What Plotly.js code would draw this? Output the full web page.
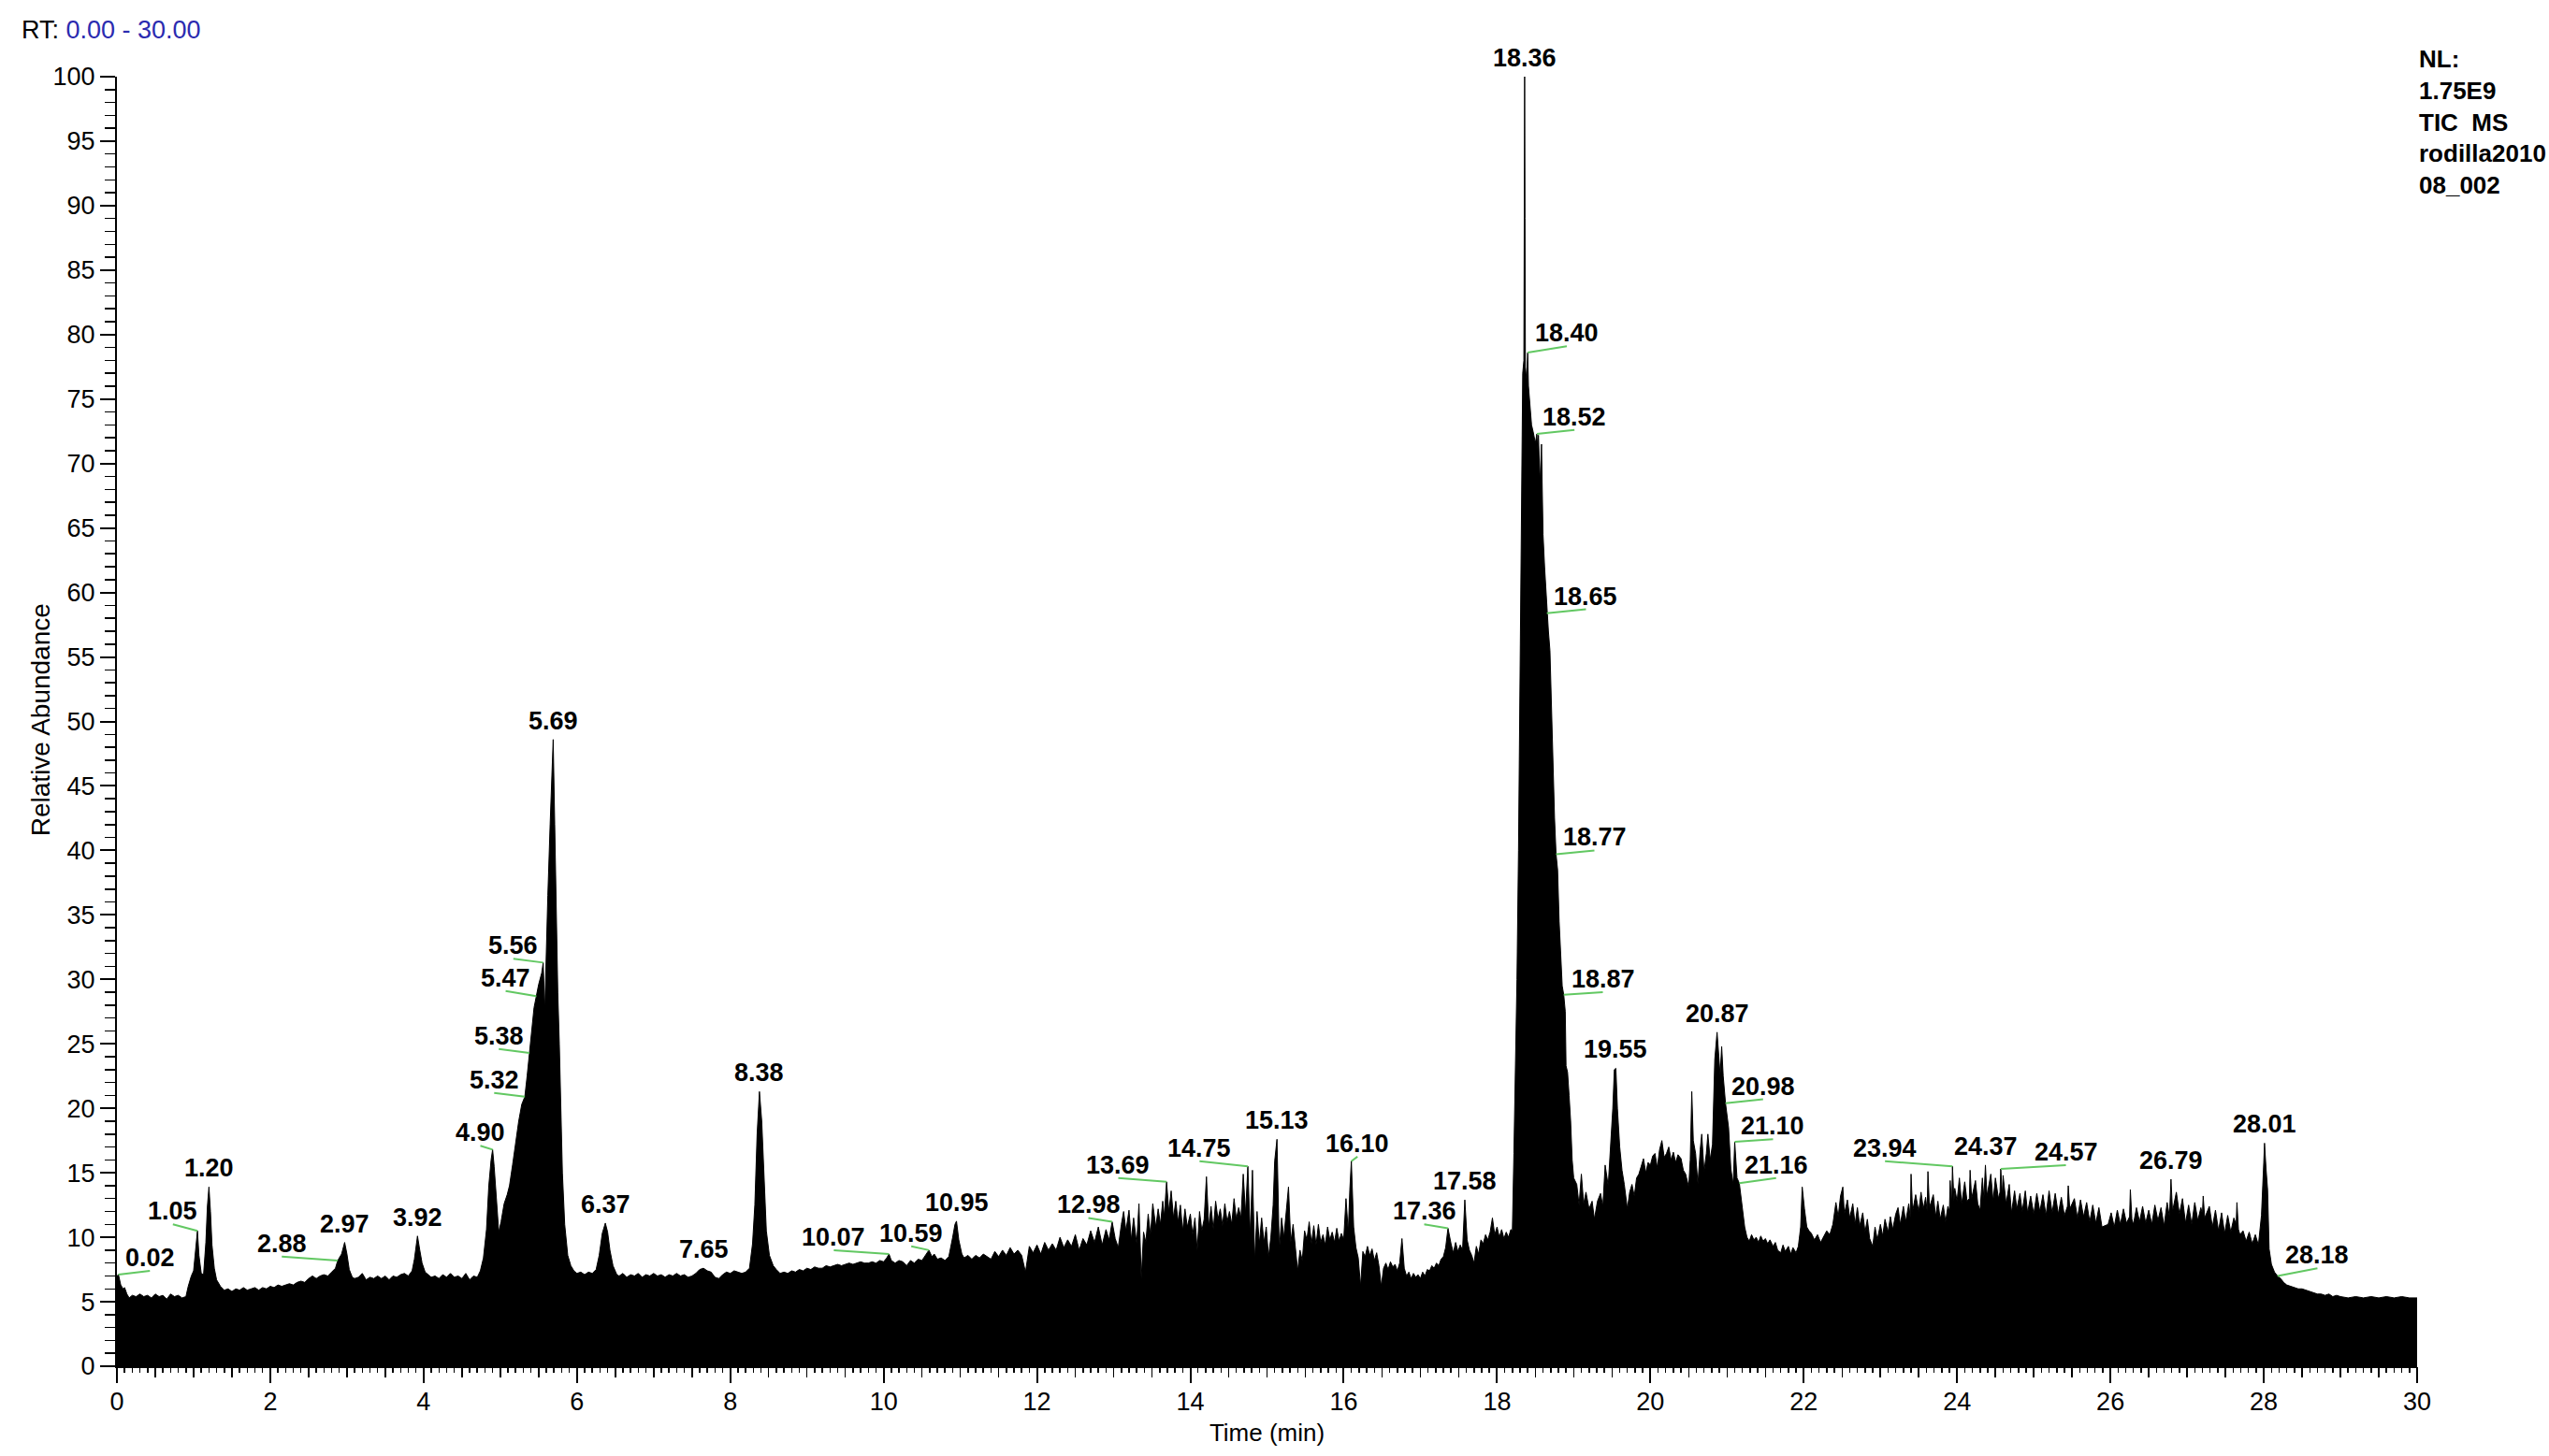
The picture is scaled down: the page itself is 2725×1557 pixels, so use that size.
<!DOCTYPE html>
<html>
<head>
<meta charset="utf-8">
<script src="https://cdn.plot.ly/plotly-3.0.1.min.js"></script>
<style>
  html, body { margin: 0; padding: 0; background: #ffffff; }
  #chart { width: 2725px; height: 1557px; }
</style>
</head>
<body>
<div id="chart"></div>
<script>
// ---------------- DATA (retention time [min], relative abundance [%]) ----------------
const scans_0_to_4_7 = [
  [0.00,7.0],[0.02,7.1],[0.05,6.3],[0.08,6.0],[0.10,6.1],[0.13,5.6],[0.16,5.3],[0.20,5.5],[0.25,5.4],[0.30,5.6],
  [0.35,5.4],[0.40,5.5],[0.45,5.3],[0.50,5.6],[0.55,5.4],[0.60,5.5],[0.65,5.2],[0.70,5.6],[0.75,5.4],[0.80,5.5],
  [0.85,5.3],[0.90,5.4],[0.93,6.2],[0.97,7.0],[1.00,7.4],[1.03,9.3],[1.05,10.5],[1.07,8.6],[1.10,7.2],[1.13,7.1],
  [1.16,9.6],[1.18,12.4],[1.20,13.9],[1.22,12.0],[1.24,9.4],[1.27,7.6],[1.30,6.7],[1.35,6.2],[1.40,5.9],[1.45,6.0],
  [1.50,5.8],[1.55,6.0],[1.60,5.9],[1.65,6.1],[1.70,5.9],[1.75,6.0],[1.80,6.1],[1.85,5.9],[1.90,6.1],[1.95,6.0],
  [2.00,6.2],[2.05,6.1],[2.10,6.3],[2.15,6.2],[2.20,6.3],[2.25,6.4],[2.30,6.3],[2.35,6.5],[2.40,6.6],[2.45,6.5],
  [2.50,6.8],[2.55,7.0],[2.60,6.8],[2.65,7.0],[2.70,7.1],[2.75,7.0],[2.80,7.3],[2.85,7.6],[2.88,8.2],[2.93,8.7],
  [2.97,9.6],[3.00,8.7],[3.03,7.5],[3.07,6.9],[3.10,6.8],[3.15,6.9],[3.20,7.2],[3.25,6.7],[3.30,6.9],[3.35,6.8],
  [3.40,7.0],[3.45,6.8],[3.50,7.0],[3.55,6.7],[3.60,7.0],[3.65,6.9],[3.70,7.1],[3.75,7.2],[3.80,7.0],[3.85,7.4],
  [3.88,8.3],[3.92,10.1],[3.95,9.0],[3.98,8.0],[4.02,7.3],[4.06,7.1],[4.10,6.9],[4.15,7.0],[4.20,6.8],[4.25,7.1],
  [4.30,6.9],[4.35,7.2],[4.40,6.9],[4.45,7.0],[4.50,6.8],[4.55,7.2],[4.60,6.7],[4.65,7.0],[4.70,6.9]
];
const scans_4_7_to_8_7 = [
  [4.74,7.4],[4.78,8.4],[4.82,10.6],[4.85,14.0],[4.88,16.0],[4.90,16.8],[4.92,15.5],[4.95,12.8],[4.98,10.4],[5.01,11.2],
  [5.05,12.6],[5.09,13.3],[5.12,14.0],[5.16,15.6],[5.20,17.5],[5.24,19.0],[5.28,20.3],[5.32,20.9],[5.35,22.5],[5.38,24.3],
  [5.41,26.0],[5.44,27.8],[5.47,28.7],[5.50,29.6],[5.54,30.5],[5.56,31.3],[5.58,27.5],[5.60,33.0],[5.62,36.5],[5.65,42.0],
  [5.67,46.0],[5.69,48.6],[5.71,42.0],[5.73,34.5],[5.75,29.0],[5.77,25.0],[5.79,19.5],[5.81,15.0],[5.84,11.0],[5.88,8.6],
  [5.92,7.8],[5.96,7.4],[6.00,7.2],[6.05,7.3],[6.10,7.1],[6.15,7.3],[6.20,7.2],[6.25,7.5],[6.29,8.6],[6.33,10.3],
  [6.37,11.1],[6.40,10.4],[6.43,9.0],[6.47,7.8],[6.52,7.1],[6.55,7.0],[6.60,7.2],[6.65,6.9],[6.70,7.1],[6.75,7.0],
  [6.80,7.2],[6.85,6.9],[6.90,7.1],[6.95,7.0],[7.00,7.2],[7.05,7.0],[7.10,7.1],[7.15,6.9],[7.20,7.1],[7.25,7.0],
  [7.30,7.2],[7.35,7.0],[7.40,7.1],[7.45,6.9],[7.50,7.0],[7.55,7.2],[7.60,7.5],[7.65,7.6],[7.70,7.4],[7.75,7.3],
  [7.80,6.9],[7.85,6.8],[7.90,7.1],[7.95,7.3],[8.00,7.2],[8.05,7.4],[8.10,7.3],[8.15,7.2],[8.20,7.3],[8.25,7.6],
  [8.29,9.5],[8.32,12.5],[8.35,18.0],[8.38,21.3],[8.41,19.0],[8.44,14.5],[8.47,10.5],[8.51,8.6],[8.56,7.8],[8.60,7.5],
  [8.65,7.2]
];
const scans_8_7_to_12 = [
  [8.70,7.3],[8.75,7.2],[8.80,7.4],[8.85,7.3],[8.90,7.5],[8.95,7.4],[9.00,7.6],[9.05,7.5],[9.10,7.7],[9.15,7.6],
  [9.20,7.6],[9.25,7.8],[9.30,7.7],[9.35,7.8],[9.40,7.9],[9.45,7.8],[9.50,7.9],[9.55,8.0],[9.60,7.9],[9.65,8.0],
  [9.70,8.1],[9.75,8.0],[9.80,8.0],[9.85,8.1],[9.90,8.0],[9.95,8.2],[10.00,8.1],[10.04,8.4],[10.07,8.7],[10.10,8.2],
  [10.15,8.0],[10.20,8.2],[10.25,8.1],[10.30,7.8],[10.35,8.2],[10.40,8.0],[10.45,8.3],[10.50,8.2],[10.55,8.6],[10.59,9.0],
  [10.63,8.5],[10.66,8.7],[10.70,8.3],[10.75,8.4],[10.80,8.2],[10.85,8.5],[10.90,10.0],[10.93,11.0],[10.95,11.25],[10.98,9.8],
  [11.02,8.7],[11.05,8.4],[11.10,8.6],[11.15,8.3],[11.20,8.6],[11.25,8.4],[11.30,8.7],[11.35,8.5],[11.40,8.3],[11.45,8.9],
  [11.50,8.5],[11.55,9.0],[11.60,8.6],[11.65,9.2],[11.70,8.7],[11.75,9.0],[11.80,8.6],[11.85,7.3],[11.90,9.3],[11.95,8.8]
];
const scans_12_to_15 = [
  [12.00,9.4],[12.05,8.7],[12.10,9.6],[12.15,9.0],[12.20,9.5],[12.25,9.0],[12.30,10.0],[12.35,9.2],[12.40,9.8],[12.45,9.3],
  [12.50,10.2],[12.55,9.0],[12.60,9.9],[12.65,9.4],[12.70,10.5],[12.75,9.6],[12.80,10.8],[12.85,9.4],[12.90,10.6],[12.94,9.8],
  [12.98,11.2],[13.02,9.9],[13.06,9.2],[13.10,11.0],[13.13,12.0],[13.16,10.5],[13.20,12.1],[13.23,9.8],[13.26,11.5],[13.30,9.5],
  [13.33,12.6],[13.36,6.8],[13.39,10.4],[13.42,9.6],[13.45,11.8],[13.48,10.2],[13.51,12.6],[13.55,10.8],[13.58,12.2],[13.61,11.0],
  [13.64,12.8],[13.66,11.6],[13.69,14.3],[13.72,12.0],[13.75,13.6],[13.78,11.5],[13.81,12.8],[13.84,11.2],[13.87,12.5],[13.90,10.5],
  [13.93,12.2],[13.96,10.8],[14.00,11.8],[14.03,10.2],[14.06,11.5],[14.09,9.0],[14.12,12.0],[14.15,10.5],[14.18,11.4],[14.21,14.7],
  [14.24,10.8],[14.27,12.4],[14.30,10.6],[14.33,12.8],[14.36,11.4],[14.39,12.2],[14.42,10.9],[14.45,12.6],[14.48,11.2],[14.51,12.0],
  [14.54,11.0],[14.57,13.0],[14.60,11.4],[14.63,12.3],[14.66,11.5],[14.69,14.9],[14.72,11.8],[14.75,15.5],[14.78,10.2],[14.81,15.2],
  [14.84,8.2],[14.87,12.0],[14.90,9.5],[14.93,11.5],[14.96,9.6],[14.99,10.8]
];
const scans_15_to_18_2 = [
  [15.02,8.5],[15.05,10.0],[15.08,12.5],[15.10,15.9],[15.13,17.6],[15.16,9.0],[15.19,11.5],[15.22,10.0],[15.25,12.0],[15.28,13.9],
  [15.31,9.6],[15.34,11.0],[15.37,9.2],[15.40,7.4],[15.43,9.0],[15.46,8.2],[15.49,10.5],[15.52,9.8],[15.55,11.2],[15.58,9.5],
  [15.61,10.9],[15.64,9.4],[15.67,11.0],[15.70,9.6],[15.73,10.2],[15.76,9.4],[15.79,10.8],[15.82,9.8],[15.85,10.4],[15.88,9.6],
  [15.91,10.7],[15.94,9.7],[15.97,10.3],[16.00,9.8],[16.03,13.0],[16.06,10.4],[16.08,13.7],[16.10,15.9],[16.13,10.8],[16.16,9.2],
  [16.19,8.4],[16.22,6.2],[16.25,8.9],[16.28,8.5],[16.31,9.3],[16.34,8.6],[16.37,9.1],[16.40,8.2],[16.43,8.8],[16.46,7.8],
  [16.49,6.2],[16.52,7.6],[16.55,8.0],[16.58,7.5],[16.61,8.1],[16.64,7.7],[16.67,7.9],[16.70,7.4],[16.73,8.0],[16.76,9.9],
  [16.79,7.6],[16.82,7.0],[16.85,7.3],[16.88,6.8],[16.91,7.2],[16.94,6.9],[16.97,7.1],[17.00,6.8],[17.03,7.3],[17.06,7.0],
  [17.09,7.5],[17.12,7.4],[17.15,7.8],[17.18,7.6],[17.21,8.0],[17.24,7.8],[17.27,8.3],[17.30,8.5],[17.33,9.2],[17.36,10.7],
  [17.40,9.5],[17.43,8.8],[17.46,9.6],[17.49,8.9],[17.52,9.4],[17.55,9.0],[17.58,12.9],[17.61,9.8],[17.64,9.0],[17.67,8.6],
  [17.70,8.0],[17.73,9.3],[17.76,8.7],[17.79,9.8],[17.82,9.5],[17.85,10.2],[17.88,9.8],[17.91,10.4],[17.94,11.5],[17.97,10.2],
  [18.00,10.8],[18.03,10.0],[18.06,10.6],[18.09,9.9],[18.12,10.4],[18.15,10.0],[18.18,10.6],[18.20,10.5]
];
const scans_18_2_to_19 = [
  [18.22,16.5],[18.24,22.0],[18.26,30.0],[18.28,40.0],[18.30,55.0],[18.32,70.0],[18.335,77.0],[18.35,78.0],[18.355,89.0],[18.36,100],
  [18.365,89.0],[18.37,77.5],[18.385,76.5],[18.40,78.6],[18.41,76.0],[18.43,74.5],[18.45,73.0],[18.47,72.5],[18.50,71.6],[18.52,72.3],
  [18.53,71.0],[18.54,72.2],[18.56,68.5],[18.58,71.5],[18.60,64.5],[18.62,62.0],[18.65,58.4],[18.67,57.0],[18.69,55.5],[18.71,51.0],
  [18.73,46.5],[18.75,42.5],[18.77,39.7],[18.79,38.5],[18.81,34.5],[18.83,31.5],[18.85,29.5],[18.87,28.8],[18.89,27.5],[18.90,23.3],
  [18.92,22.8],[18.94,21.0],[18.96,19.0],[18.98,16.0],[19.00,14.6]
];
const scans_19_to_22_4 = [
  [19.04,14.1],[19.07,12.5],[19.10,14.9],[19.13,12.6],[19.16,13.5],[19.20,12.2],[19.24,12.8],[19.27,11.4],[19.31,12.8],[19.35,13.4],
  [19.38,12.4],[19.41,15.6],[19.45,14.0],[19.48,17.0],[19.51,20.0],[19.53,23.0],[19.55,23.1],[19.57,20.0],[19.60,17.0],[19.63,15.2],
  [19.66,14.1],[19.70,12.2],[19.73,13.5],[19.76,14.1],[19.79,13.2],[19.82,14.6],[19.85,14.9],[19.88,15.5],[19.91,16.1],[19.94,15.0],
  [19.97,15.8],[20.00,15.6],[20.03,16.3],[20.06,16.5],[20.09,15.4],[20.12,16.8],[20.15,17.5],[20.18,16.2],[20.21,16.5],[20.24,17.0],
  [20.27,16.0],[20.30,16.6],[20.33,15.8],[20.36,16.4],[20.40,16.1],[20.43,15.2],[20.46,14.9],[20.50,13.9],[20.52,16.0],[20.54,21.3],
  [20.56,17.5],[20.59,16.5],[20.62,14.1],[20.65,16.8],[20.67,18.0],[20.70,15.1],[20.73,16.5],[20.75,18.0],[20.78,16.0],[20.81,17.2],
  [20.84,23.8],[20.87,25.9],[20.89,23.8],[20.91,22.6],[20.93,24.8],[20.95,22.5],[20.98,20.4],[21.00,19.5],[21.02,18.5],[21.05,15.3],
  [21.08,14.1],[21.10,17.4],[21.13,14.6],[21.16,14.2],[21.20,12.2],[21.23,10.8],[21.26,10.0],[21.29,9.7],[21.32,10.2],[21.35,9.8],
  [21.38,10.0],[21.41,9.6],[21.44,10.1],[21.47,9.7],[21.50,9.9],[21.53,9.5],[21.56,9.8],[21.60,9.3],[21.63,9.6],[21.66,9.0],
  [21.70,8.8],[21.73,9.4],[21.76,8.9],[21.80,9.3],[21.83,8.7],[21.86,9.2],[21.90,8.8],[21.93,9.3],[21.96,10.8],[21.98,13.9],
  [22.01,12.2],[22.04,10.8],[22.07,10.5],[22.10,10.3],[22.14,9.8],[22.18,10.2],[22.22,9.6],[22.26,10.0],[22.30,10.5],[22.34,10.2],
  [22.38,11.0]
];
const scans_22_4_to_26 = [
  [22.42,12.7],[22.45,11.6],[22.48,13.2],[22.51,13.9],[22.53,11.8],[22.57,12.9],[22.60,11.5],[22.64,12.6],[22.67,11.0],[22.70,12.3],
  [22.73,10.9],[22.77,11.9],[22.80,10.4],[22.83,11.4],[22.86,9.9],[22.90,9.3],[22.93,10.8],[22.96,9.8],[23.00,11.0],[23.03,10.1],
  [23.06,11.4],[23.10,10.4],[23.13,11.6],[23.16,10.6],[23.20,11.8],[23.23,12.3],[23.26,11.0],[23.30,12.4],[23.33,11.2],[23.37,12.6],
  [23.39,11.5],[23.40,14.9],[23.42,12.0],[23.46,13.3],[23.50,12.0],[23.53,13.5],[23.56,12.2],[23.59,13.1],[23.61,12.0],[23.62,15.1],
  [23.64,12.3],[23.69,13.3],[23.72,11.6],[23.75,12.8],[23.78,11.4],[23.82,12.5],[23.85,11.2],[23.88,12.4],[23.90,12.0],[23.91,14.4],
  [23.93,12.5],[23.94,15.5],[23.96,12.8],[23.97,13.8],[24.00,12.8],[24.03,14.6],[24.06,12.6],[24.10,14.3],[24.13,12.8],[24.16,13.0],
  [24.17,15.2],[24.19,13.0],[24.24,14.4],[24.27,12.6],[24.30,12.1],[24.33,14.6],[24.35,13.0],[24.37,15.6],[24.39,13.2],[24.44,14.9],
  [24.47,12.8],[24.50,14.6],[24.54,13.0],[24.56,13.5],[24.57,15.3],[24.59,13.2],[24.60,14.8],[24.64,12.6],[24.68,14.1],[24.71,11.9],
  [24.75,13.6],[24.78,12.2],[24.82,13.4],[24.85,12.0],[24.89,13.6],[24.92,11.9],[24.96,13.2],[25.00,11.8],[25.04,13.4],[25.08,12.0],
  [25.12,13.3],[25.16,11.7],[25.20,13.6],[25.24,11.9],[25.28,13.4],[25.32,11.8],[25.36,13.1],[25.40,11.7],[25.44,12.4],[25.45,14.0],
  [25.47,12.2],[25.53,13.0],[25.57,11.5],[25.61,12.9],[25.65,11.6],[25.69,12.7],[25.73,11.2],[25.77,12.5],[25.81,11.1],[25.85,12.3],
  [25.89,10.8],[25.93,10.9],[25.97,11.0]
];
const scans_26_to_30 = [
  [26.01,11.9],[26.05,10.8],[26.09,12.1],[26.13,11.0],[26.17,12.2],[26.21,11.1],[26.25,11.6],[26.26,13.7],[26.28,11.4],[26.30,11.0],
  [26.34,12.3],[26.38,11.2],[26.42,12.4],[26.46,11.1],[26.50,12.1],[26.54,11.0],[26.58,12.5],[26.62,11.3],[26.66,12.3],[26.70,10.9],
  [26.74,12.7],[26.77,11.6],[26.79,14.5],[26.81,12.0],[26.86,13.5],[26.90,11.8],[26.94,13.0],[26.98,11.1],[27.02,12.5],[27.06,11.0],
  [27.10,12.7],[27.14,11.3],[27.18,12.3],[27.20,11.8],[27.21,13.2],[27.23,11.5],[27.29,12.4],[27.33,10.8],[27.37,12.1],[27.41,10.5],
  [27.45,11.9],[27.49,10.3],[27.53,11.7],[27.57,10.4],[27.61,11.5],[27.64,11.0],[27.65,12.7],[27.67,10.6],[27.69,10.2],[27.73,10.5],
  [27.77,9.7],[27.81,10.4],[27.85,9.5],[27.89,10.2],[27.93,9.4],[27.97,11.7],[28.00,15.8],[28.01,17.3],[28.03,15.3],[28.05,13.7],
  [28.07,9.1],[28.10,7.9],[28.14,7.3],[28.18,7.0],[28.22,6.8],[28.26,6.5],[28.30,6.3],[28.35,6.2],[28.40,6.1],[28.45,6.0],
  [28.50,6.0],[28.55,5.9],[28.60,5.8],[28.65,5.7],[28.70,5.6],[28.75,5.6],[28.80,5.5],[28.85,5.6],[28.90,5.4],[28.95,5.5],
  [29.00,5.4],[29.10,5.3],[29.20,5.4],[29.30,5.3],[29.40,5.4],[29.50,5.3],[29.60,5.4],[29.70,5.3],[29.80,5.4],[29.90,5.3],
  [30.00,5.3]
];

// Labelled peaks: retention time and apex abundance
const peakRT = [0.02,1.05,1.20,2.88,2.97,3.92,4.90,5.32,5.38,5.47,5.56,5.69,6.37,7.65,8.38,10.07,10.59,10.95,12.98,13.69,
  14.75,15.13,16.10,17.36,17.58,18.36,18.40,18.52,18.65,18.77,18.87,19.55,20.87,20.98,21.10,21.16,23.94,24.37,24.57,26.79,28.01,28.18];
const peakApex = [7.1,10.5,13.9,8.2,9.6,10.1,16.8,20.9,24.3,28.7,31.3,48.6,11.1,7.6,21.3,8.7,9.0,11.25,11.2,14.3,
  15.5,17.6,15.9,10.7,12.9,100,78.6,72.3,58.4,39.7,28.8,23.1,25.9,20.4,17.4,14.2,15.5,15.6,15.3,14.5,17.3,7.0];

// Header texts
const rangeText = '0.00 - 30.00';
const infoLines = ['NL:', '1.75E9', 'TIC\u00a0 MS', 'rodilla2010', '08_002'];
const xTitle = 'Time (min)';
const yTitle = 'Relative Abundance';

// ---------------- LABEL PLACEMENT (layout only): displaced labels, [time, abundance] of text anchor ----------------
const displacedLabelAt = {
  '0.02': [0.43, 7.4], '1.05': [0.73, 11.0], '2.88': [2.15, 8.5], '4.90': [4.74, 17.1],
  '5.32': [4.92, 21.2], '5.38': [4.98, 24.6], '5.47': [5.07, 29.1], '5.56': [5.17, 31.6],
  '10.07': [9.35, 9.0], '10.59': [10.36, 9.3], '12.98': [12.67, 11.5], '13.69': [13.06, 14.6],
  '14.75': [14.12, 15.9], '16.10': [16.18, 16.25], '17.36': [17.05, 11.0],
  '18.40': [18.91, 79.1], '18.52': [19.01, 72.6], '18.65': [19.16, 58.7], '18.77': [19.27, 40.0], '18.87': [19.38, 29.0],
  '20.98': [21.47, 20.7], '21.10': [21.60, 17.6], '21.16': [21.64, 14.6],
  '23.94': [23.06, 15.9], '24.57': [25.42, 15.6], '28.18': [28.70, 7.6]
};

// ---------------- BUILD ----------------
const allScans = [].concat(scans_0_to_4_7, scans_4_7_to_8_7, scans_8_7_to_12, scans_12_to_15,
  scans_15_to_18_2, scans_18_2_to_19, scans_19_to_22_4, scans_22_4_to_26, scans_26_to_30);
const rt = allScans.map(p => p[0]);
const abundance = allScans.map(p => p[1]);

const FONT = '"Liberation Sans", Arial, Helvetica, sans-serif';

const chromTrace = {
  type: 'scatter', mode: 'lines', x: rt, y: abundance,
  fill: 'tozeroy', fillcolor: '#000000',
  line: { color: '#000000', width: 1, shape: 'linear' },
  hoverinfo: 'skip', showlegend: false
};

const leadX = [], leadY = [];
const annotations = [];
peakRT.forEach((t, i) => {
  const label = t.toFixed(2);
  const place = displacedLabelAt[label];
  if (place) {
    leadX.push(place[0], t, null);
    leadY.push(place[1], peakApex[i], null);
    annotations.push({
      x: place[0], y: place[1], xref: 'x', yref: 'y', text: '<b>' + label + '</b>',
      showarrow: false, xanchor: 'center', yanchor: 'bottom', yshift: -3,
      font: { family: FONT, size: 27, color: '#000' }
    });
  } else {
    annotations.push({
      x: t, y: peakApex[i], xref: 'x', yref: 'y', text: '<b>' + label + '</b>',
      showarrow: false, xanchor: 'center', yanchor: 'bottom', yshift: 3,
      font: { family: FONT, size: 27, color: '#000' }
    });
  }
});

const leaderTrace = {
  type: 'scatter', mode: 'lines', x: leadX, y: leadY,
  line: { color: '#62c862', width: 2 }, hoverinfo: 'skip', showlegend: false, connectgaps: false
};

const tickHelper = { type: 'scatter', mode: 'lines', x: [], y: [], xaxis: 'x2', yaxis: 'y', hoverinfo: 'skip', showlegend: false };

annotations.push({
  xref: 'paper', yref: 'paper', x: -0.0423, y: 1.036, xanchor: 'left', yanchor: 'middle',
  text: 'RT: <span style="color:#2b2bb0">' + rangeText + '</span>', showarrow: false,
  font: { family: FONT, size: 27, color: '#000' }
});
annotations.push({
  xref: 'paper', yref: 'paper', x: 1, y: 1.026, xanchor: 'left', yanchor: 'top', align: 'left',
  text: '<b>' + infoLines.join('<br>') + '</b>', showarrow: false,
  font: { family: FONT, size: 26, color: '#000' }
});
annotations.push({
  xref: 'paper', yref: 'paper', x: -0.0333, y: 0.501, xanchor: 'center', yanchor: 'middle', textangle: -90,
  text: yTitle, showarrow: false, font: { family: FONT, size: 28, color: '#000' }
});

const layout = {
  width: 2725, height: 1557,
  margin: { l: 125, r: 141, t: 82, b: 96, pad: 0 },
  paper_bgcolor: '#ffffff', plot_bgcolor: '#ffffff',
  showlegend: false,
  font: { family: FONT, size: 27, color: '#000' },
  xaxis: {
    range: [0, 30], tick0: 0, dtick: 2, ticks: 'outside', ticklen: 16, tickwidth: 2, tickcolor: '#000',
    showline: true, linecolor: '#000', linewidth: 2, showgrid: false, zeroline: false,
    tickfont: { family: FONT, size: 27, color: '#000' }, ticklabelstandoff: -3,
    minor: { tick0: 0, dtick: 0.1, ticks: 'outside', ticklen: 5, tickwidth: 1.5, tickcolor: '#000', showgrid: false },
    title: { text: xTitle, font: { family: FONT, size: 26, color: '#000' }, standoff: 9 },
    fixedrange: true
  },
  xaxis2: {
    overlaying: 'x', anchor: 'y', side: 'bottom', range: [0, 30], tick0: 0, dtick: 0.5,
    ticks: 'outside', ticklen: 11, tickwidth: 1.5, tickcolor: '#000',
    showticklabels: false, showline: false, showgrid: false, zeroline: false, fixedrange: true
  },
  yaxis: {
    range: [0, 100], tick0: 0, dtick: 5, ticks: 'outside', ticklen: 16, tickwidth: 2, tickcolor: '#000',
    showline: true, linecolor: '#000', linewidth: 2, showgrid: false, zeroline: false,
    tickfont: { family: FONT, size: 27, color: '#000' },
    minor: { tick0: 0, dtick: 1, ticks: 'outside', ticklen: 11, tickwidth: 1.5, tickcolor: '#000', showgrid: false },
    fixedrange: true
  },
  annotations: annotations
};

Plotly.newPlot('chart', [chromTrace, leaderTrace, tickHelper], layout, { staticPlot: true, displayModeBar: false });
</script>
</body>
</html>
